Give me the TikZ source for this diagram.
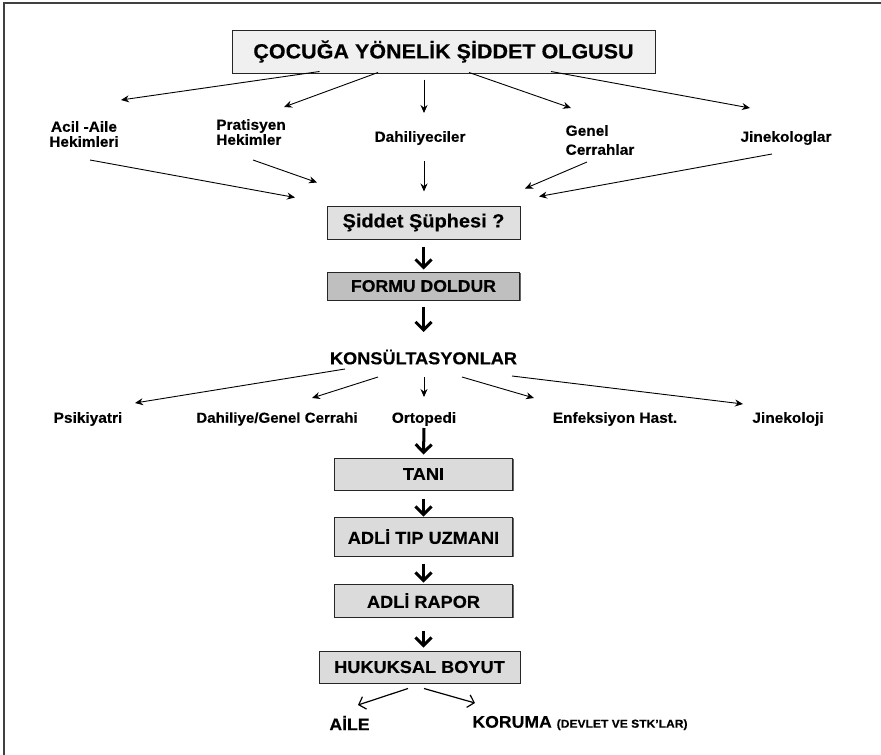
\documentclass[tikz,border=0pt]{standalone}
\usepackage{fontspec}
\setmainfont{Liberation Sans}[FakeStretch=1.05,FakeBold=0.3]
\usepackage{tikz}
\usetikzlibrary{arrows.meta}
\usetikzlibrary{shadows}
\usetikzlibrary{math}

\newcommand{\punto}[2]{\fontsize{#1}{#2}\selectfont\bfseries}

\begin{document}
\begin{tikzpicture}[x=1pt,y=-1pt,line width=0.9pt,
  kutu/.style={draw=black!85, line width=1pt, inner sep=0pt, align=center,
    drop shadow={shadow xshift=1.3pt, shadow yshift=-1.3pt, fill=black!60, opacity=1}},
  etiket/.style={inner sep=0pt, align=center, font=\punto{14.7}{15}},
  ince/.style={-{Stealth[length=8pt, width=7pt]}, line width=0.9pt},
  kalin/.style={-{Straight Barb[length=8pt, width=16pt]}, line width=3pt},
  acik/.style={-{Straight Barb[length=6pt, width=13pt]}, line width=1.2pt}]

  \tikzmath{
    \colx  = 423.5; % x of the middle column
    \boxw  = 178;   % width of the lower boxes
  }

  \useasboundingbox (0,0) rectangle (881,755);

  % frame
  \draw[line width=2.2pt, black!75] (4,755) -- (4,3) -- (881,3);

  % top box
  \node[kutu, fill=black!6, minimum width=423pt, minimum height=43pt,
        font=\punto{20.5}{23}] (olgu) at (443.5,51.5) {ÇOCUĞA YÖNELİK ŞİDDET OLGUSU};

  % physicians
  \node[etiket] (acil) at (84,134) {Acil -Aile\\Hekimleri};
  \node[etiket, align=left] (pratisyen) at (251,132) {Pratisyen\\Hekimler};
  \node[etiket] (dahiliyeci) at (420,138) {Dahiliyeciler};
  \node[etiket, align=left, font=\punto{14.7}{19}] (genel) at (600,140) {Genel\\Cerrahlar};
  \node[etiket] (jineko) at (786,138) {Jinekologlar};

  \draw[ince] ([xshift=-124pt,yshift=2pt]olgu.south) -- ([xshift=37pt,yshift=34pt]acil.center);
  \draw[ince] ([xshift=-65.5pt,yshift=1pt]olgu.south) -- ([xshift=33pt,yshift=25pt]pratisyen.center);
  \draw[ince] ([xshift=-19.5pt,yshift=-6pt]olgu.south) -- ([xshift=4pt,yshift=25pt]dahiliyeci.center);
  \draw[ince] ([xshift=25.5pt,yshift=1pt]olgu.south) -- ([xshift=-29pt,yshift=32pt]genel.center);
  \draw[ince] ([xshift=107.5pt,yshift=2pt]olgu.south) -- ([xshift=-36pt,yshift=30pt]jineko.center);

  % suspicion
  \node[kutu, fill=black!12, minimum width=193pt, minimum height=33pt,
        font=\punto{19}{20}] (suphe) at (\colx,222.5) {Şiddet Şüphesi ?};

  \draw[ince] ([xshift=6pt,yshift=-26pt]acil.center) -- ([xshift=-128.5pt,yshift=8pt]suphe.north);
  \draw[ince] ([xshift=2pt,yshift=-28pt]pratisyen.center) -- ([xshift=-106.5pt,yshift=23pt]suphe.north);
  \draw[ince] ([xshift=4pt,yshift=-23pt]dahiliyeci.center) -- ([xshift=0.5pt,yshift=14pt]suphe.north);
  \draw[ince] ([xshift=-13pt,yshift=-22pt]genel.center) -- ([xshift=101.5pt,yshift=17pt]suphe.north);
  \draw[ince] ([xshift=-14pt,yshift=-16pt]jineko.center) -- ([xshift=115.5pt,yshift=9pt]suphe.north);

  \node[kutu, fill=black!25, minimum width=192pt, minimum height=28pt,
        font=\punto{16.8}{18}] (form) at (\colx,286) {FORMU DOLDUR};
  \node[etiket, font=\punto{17.3}{18}] (kons) at (\colx,357) {KONSÜLTASYONLAR};

  \draw[kalin] ([yshift=-7pt]suphe.south) -- ([yshift=2pt]form.north);
  \draw[kalin] ([yshift=-6pt]form.south) -- ([yshift=25pt]kons.center);

  % consultations
  \node[etiket] (psik) at (88,419) {Psikiyatri};
  \node[etiket, font=\punto{14.4}{15}] (dahgen) at (277,419) {Dahiliye/Genel Cerrahi};
  \node[etiket] (orto) at (424,419) {Ortopedi};
  \node[etiket] (enf) at (615,419) {Enfeksiyon Hast.};
  \node[etiket] (jinekoloji) at (788,419) {Jinekoloji};

  \draw[ince] ([xshift=-78.5pt,yshift=-12pt]kons.center) -- ([xshift=47pt,yshift=16pt]psik.center);
  \draw[ince] ([xshift=-45.5pt,yshift=-20pt]kons.center) -- ([xshift=35pt,yshift=21pt]dahgen.center);
  \draw[ince] ([xshift=0.5pt,yshift=-20pt]kons.center) -- ([yshift=22pt]orto.center);
  \draw[ince] ([xshift=38.5pt,yshift=-20pt]kons.center) -- ([xshift=-81pt,yshift=21pt]enf.center);
  \draw[ince] ([xshift=88.5pt,yshift=-19pt]kons.center) -- ([xshift=-45pt,yshift=15pt]jinekoloji.center);

  % legal chain
  \node[kutu, fill=black!14, minimum width=\boxw pt, minimum height=32pt,
        font=\punto{17.3}{18}] (tani) at (\colx,474) {TANI};
  \node[kutu, fill=black!14, minimum width=\boxw pt, minimum height=39pt,
        font=\punto{17.3}{18}] (adli) at (\colx,536.5) {ADLİ TIP UZMANI};
  \node[kutu, fill=black!14, minimum width=\boxw pt, minimum height=33pt,
        font=\punto{17.3}{18}] (rapor) at (\colx,600.5) {ADLİ RAPOR};
  \node[kutu, fill=black!14, minimum width=201pt, minimum height=32pt,
        font=\punto{17.3}{18}] (hukuk) at (419.5,667) {HUKUKSAL BOYUT};

  \draw[kalin] ([yshift=-9pt]orto.center) -- ([yshift=3pt]tani.north);
  \draw[kalin] ([yshift=-8pt]tani.south) -- (adli.north);
  \draw[kalin] ([yshift=-7pt]adli.south) -- ([yshift=1pt]rapor.north);
  \draw[kalin] ([yshift=-13pt]rapor.south) -- ([xshift=4pt,yshift=3pt]hukuk.north);

  % outcome
  \node[etiket, font=\punto{16.8}{18}] (aile) at (349.5,723) {AİLE};
  \node[etiket, anchor=west, font=\punto{16.8}{18}] (koruma) at (472,723)
    {KORUMA {\punto{11.5}{13}(DEVLET VE STK’LAR)}};

  \draw[acik] ([xshift=-11.5pt,yshift=-5pt]hukuk.south) -- ([xshift=8.5pt,yshift=18pt]aile.center);
  \draw[acik] ([xshift=4.5pt,yshift=-5pt]hukuk.south) -- ([xshift=3pt,yshift=20pt]koruma.west);

\end{tikzpicture}
\end{document}
